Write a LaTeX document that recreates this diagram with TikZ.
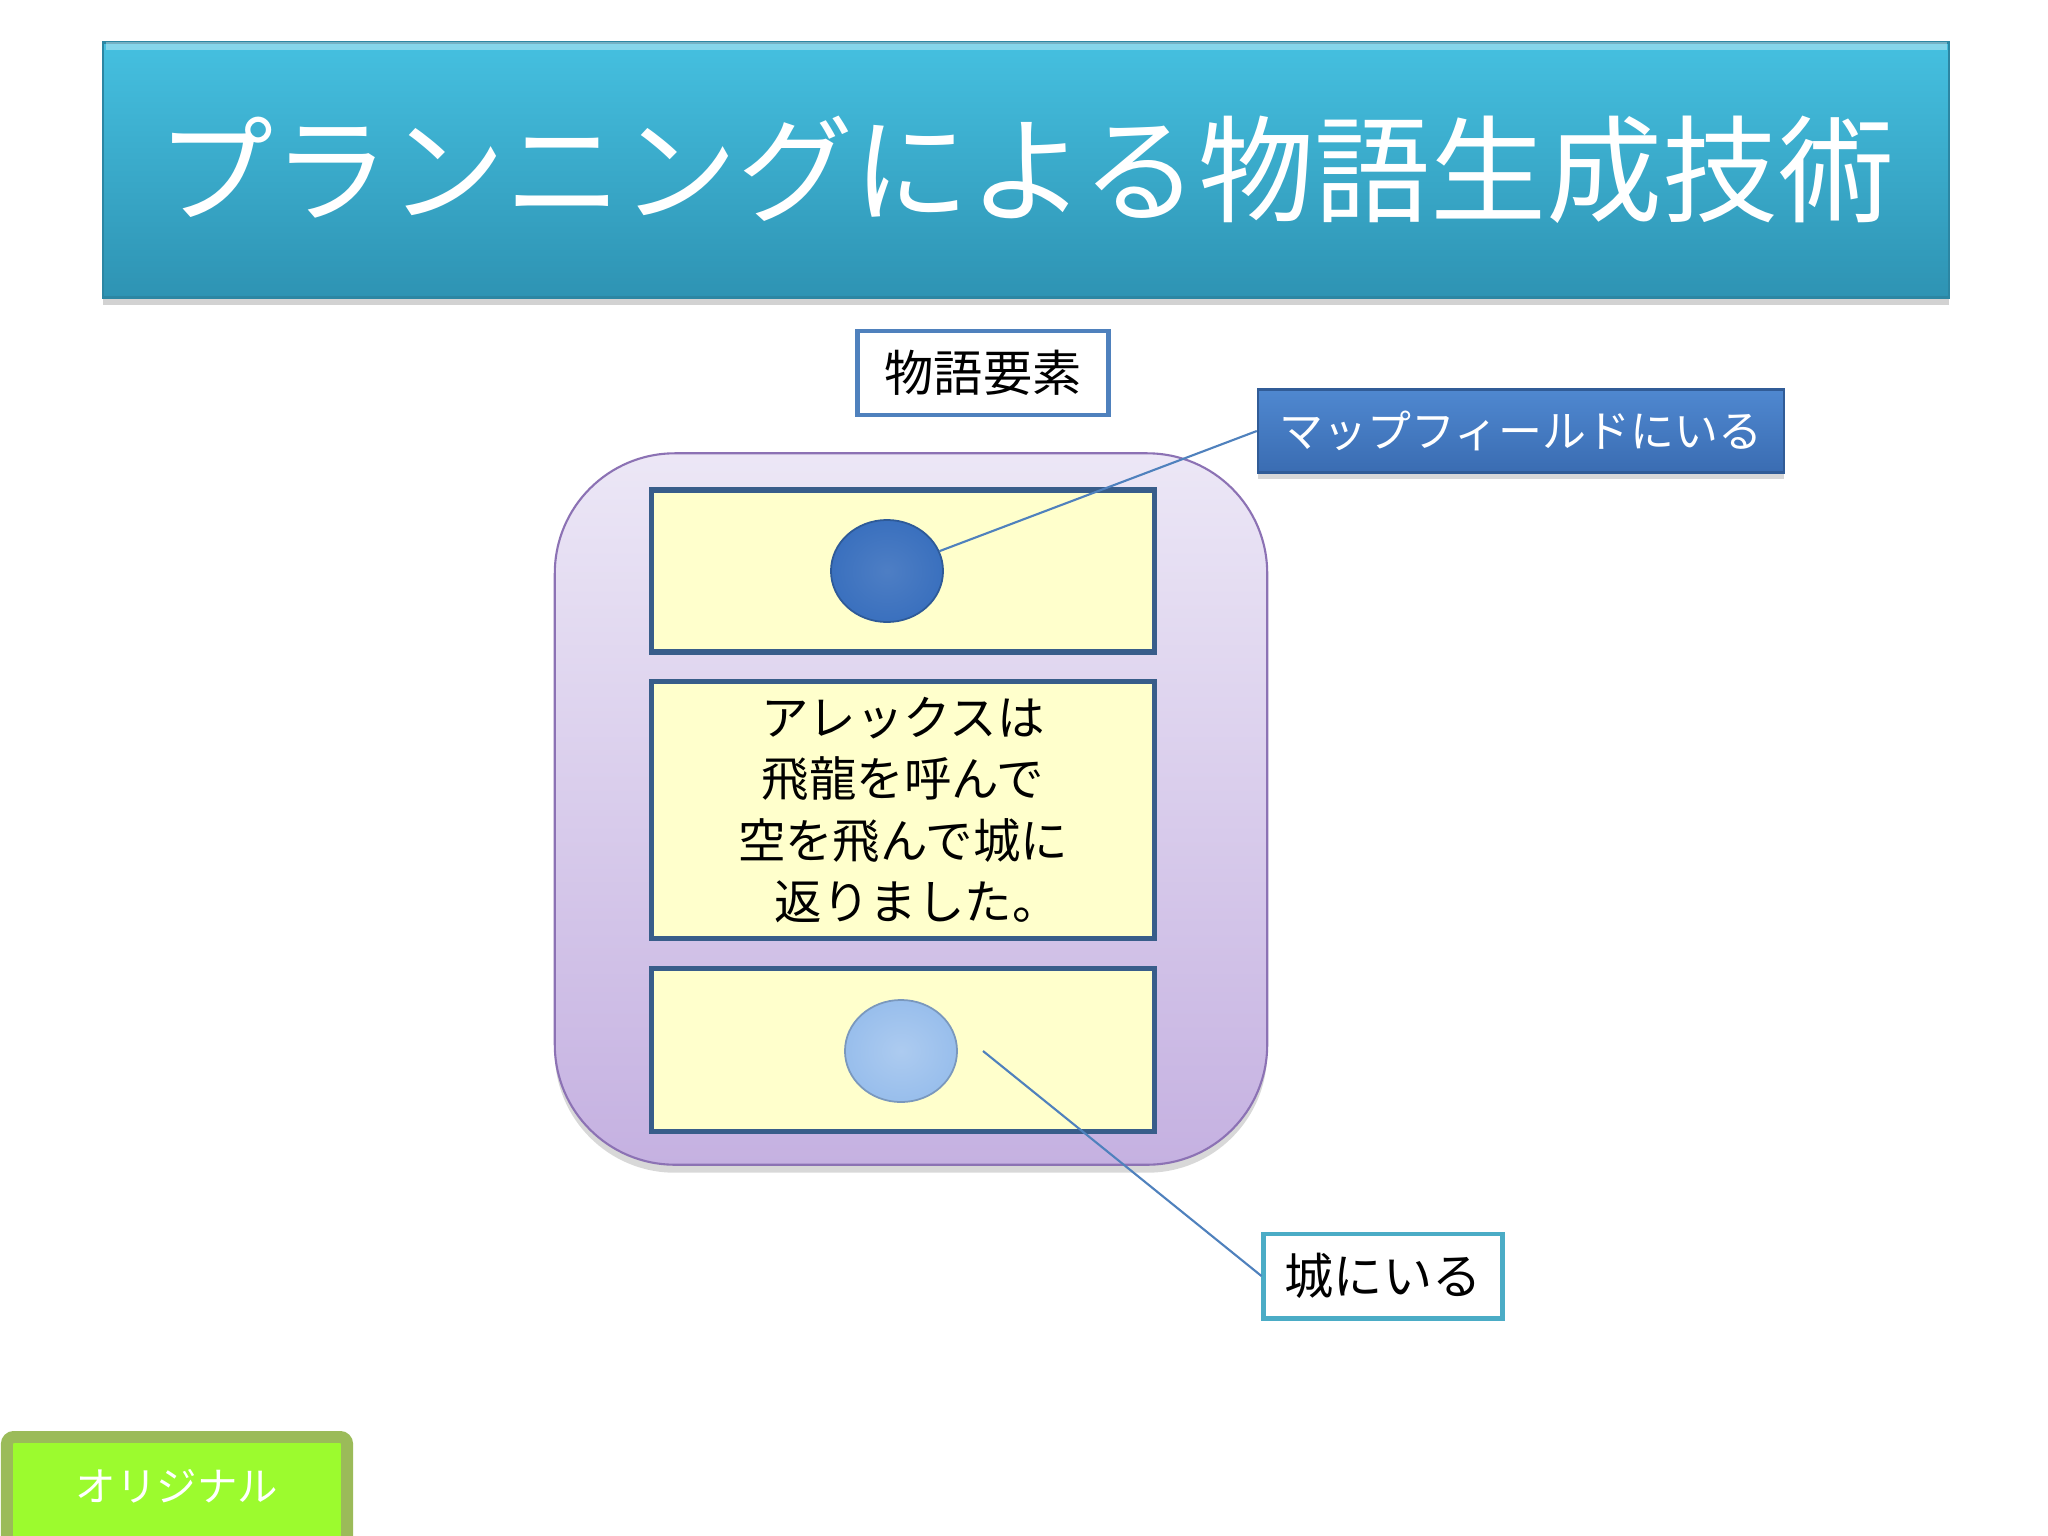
\documentclass[tikz,border=0pt]{standalone}
\usepackage{fontspec}
\setmainfont{Noto Sans CJK JP}
\usetikzlibrary{shapes.geometric,shadows}
\definecolor{titletop}{HTML}{45C0E0}
\definecolor{titlebot}{HTML}{2E93B3}
\definecolor{titleedge}{HTML}{2C86A3}
\definecolor{maptop}{HTML}{4F88D0}
\definecolor{mapbot}{HTML}{3A6CB2}
\definecolor{paneltop}{HTML}{ECE7F6}
\definecolor{panelbot}{HTML}{C5B1E1}
\definecolor{paneledge}{HTML}{8C72B4}
\definecolor{drawerfill}{HTML}{FFFFCC}
\definecolor{drawerline}{HTML}{385D8A}
\definecolor{elemblue}{HTML}{4F81BD}
\definecolor{castleteal}{HTML}{4BACC6}
\definecolor{origfill}{HTML}{9CFB2E}
\definecolor{origedge}{HTML}{9BBB59}
\definecolor{darkdot}{HTML}{3A70BE}
\definecolor{lightdot}{HTML}{98BEEC}

\tikzset{
    labelbox/.style={draw, line width=1.4pt, fill=white, minimum height=0.84cm, inner sep=0pt,
        font=\fontsize{14}{17}\selectfont},
    drawer/.style={draw=drawerline, line width=1.6pt, fill=drawerfill, minimum width=5.03cm, inner sep=0pt},
    marble/.style={ellipse, minimum width=1.12cm, minimum height=1.02cm, inner sep=0pt},
    tether/.style={draw=elemblue, line width=0.6pt}
}

\begin{document}
\begin{tikzpicture}[x=0.01cm,y=-0.01cm]
    \useasboundingbox[fill=white] (0,0) rectangle (2048,1536);
    \node[top color=titletop, bottom color=titlebot, draw=titleedge, line width=0.8pt,
        drop shadow={opacity=0.35, shadow xshift=0cm, shadow yshift=-0.07cm},
        minimum width=18.45cm, minimum height=2.55cm, text=white,
        font=\fontsize{33}{40}\selectfont] (title) at (1026,170) {プランニングによる物語生成技術};
    \draw[white, opacity=0.35, line width=2pt] (106,46) -- (1947,46);
    \node[labelbox, draw=elemblue, minimum width=2.5cm] (elem) at (983,373) {物語要素};
    \node[top color=maptop, bottom color=mapbot, draw=mapbot!85!black, line width=0.6pt,
        drop shadow={opacity=0.3, shadow xshift=0cm, shadow yshift=-0.06cm},
        minimum width=5.26cm, minimum height=0.83cm, inner sep=0pt, text=white,
        font=\fontsize{12.5}{15}\selectfont] (map) at (1521,431) {マップフィールドにいる};
    \node[top color=paneltop, bottom color=panelbot, draw=paneledge, line width=0.6pt,
        rounded corners=1.2cm, drop shadow={opacity=0.3, shadow xshift=0cm, shadow yshift=-0.08cm},
        minimum width=7.12cm, minimum height=7.11cm] (panel) at (911,809) {};
    \node[drawer, minimum height=1.62cm] (top) at (903,571) {};
    \node[drawer, minimum height=2.57cm, align=center,
        font=\fontsize{13.5}{17.4}\selectfont] (story) at (903,810)
        {アレックスは\\飛龍を呼んで\\空を飛んで城に\\返りました。\kern-0.6em};
    \node[drawer, minimum height=1.63cm] (bottom) at (903,1050) {};
    \node[marble, inner color=darkdot!90!white, outer color=darkdot,
        draw=darkdot!80!black, line width=0.5pt] (dot1) at (887,571) {};
    \node[marble, inner color=lightdot!80!white, outer color=lightdot,
        draw=lightdot!80!black, line width=0.5pt] (dot2) at (901,1051) {};
    \node[labelbox, draw=castleteal, minimum width=2.38cm] (castle) at (1383,1276) {城にいる};
    \node[fill=origfill, draw=origedge, line width=3.4pt, rounded corners=2pt,
        minimum width=3.4cm, minimum height=1.1cm] (orig) at (177,1492) {};
    \node[text=white, font=\fontsize{11.5}{14}\selectfont] (origtext) at (177,1486) {オリジナル};
    \coordinate (tail) at (983,1051);
    \draw[tether] (dot1) -- (map.west);
    \draw[tether] (tail) -- (castle.west);
\end{tikzpicture}
\end{document}
